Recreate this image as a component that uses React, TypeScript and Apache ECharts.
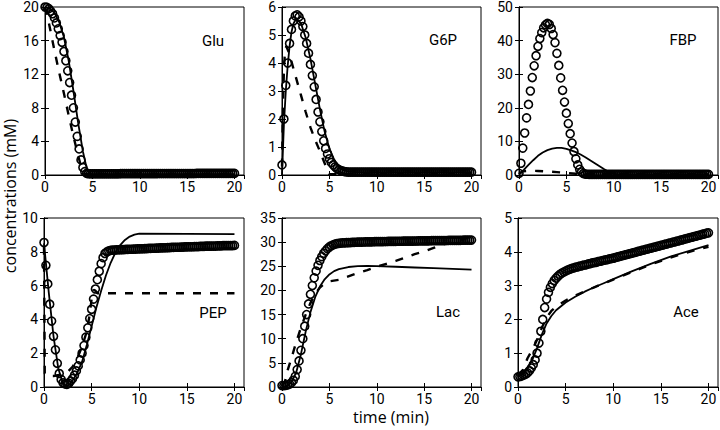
import React, { useEffect, useRef } from "react";
import * as echarts from "echarts";

// time grid of the simulated (circle) series, 0..20 min every 0.2 min
const T: number[] = Array.from({ length: 101 }, (_, k) => Math.round(k * 2) / 10);

const panelNames = ["Glu", "G6P", "FBP", "PEP", "Lac", "Ace"];
const yMax = [20, 6, 50, 10, 35, 5];
const yStep = [4, 1, 10, 2, 5, 1];
const xTicks = [0, 5, 10, 15, 20];

// ---- circle series (values at T) ----
const gluCircles = [
  20, 19.95, 19.8, 19.5, 19.2, 18.7, 18.1, 17.4, 16.6, 15.8,
  14.7, 13.6, 12.4, 11.0, 9.5, 8.0, 6.3, 4.6, 3.1, 1.8,
  0.9, 0.4, 0.2, 0.15, 0.15, 0.15, 0.15, 0.15, 0.15, 0.15,
  0.15, 0.15, 0.15, 0.15, 0.15, 0.15, 0.15, 0.15, 0.15, 0.15,
  0.16, 0.16, 0.16, 0.16, 0.16, 0.16, 0.16, 0.16, 0.16, 0.16,
  0.17, 0.17, 0.17, 0.17, 0.17, 0.17, 0.17, 0.17, 0.17, 0.17,
  0.18, 0.18, 0.18, 0.18, 0.18, 0.18, 0.18, 0.18, 0.18, 0.18,
  0.18, 0.18, 0.18, 0.18, 0.18, 0.18, 0.18, 0.18, 0.18, 0.18,
  0.19, 0.19, 0.19, 0.19, 0.19, 0.19, 0.19, 0.19, 0.19, 0.19,
  0.19, 0.19, 0.19, 0.19, 0.19, 0.19, 0.19, 0.19, 0.19, 0.19,
  0.2,
];
const g6pCircles = [
  0.36, 2.0, 3.2, 4.0, 4.7, 5.2, 5.5, 5.68, 5.72, 5.65,
  5.5, 5.3, 5.0, 4.7, 4.35, 3.95, 3.55, 3.15, 2.7, 2.25,
  1.9, 1.55, 1.22, 0.95, 0.75, 0.58, 0.45, 0.36, 0.29, 0.23,
  0.19, 0.16, 0.14, 0.12, 0.11, 0.1, 0.1, 0.1, 0.1, 0.1,
  0.1, 0.1, 0.1, 0.1, 0.1, 0.1, 0.1, 0.1, 0.1, 0.1,
  0.1, 0.1, 0.1, 0.1, 0.1, 0.1, 0.1, 0.1, 0.1, 0.1,
  0.1, 0.1, 0.1, 0.1, 0.1, 0.1, 0.1, 0.1, 0.1, 0.1,
  0.1, 0.1, 0.1, 0.1, 0.1, 0.1, 0.1, 0.1, 0.1, 0.1,
  0.1, 0.1, 0.1, 0.1, 0.1, 0.1, 0.1, 0.1, 0.1, 0.1,
  0.1, 0.1, 0.1, 0.1, 0.1, 0.1, 0.1, 0.1, 0.1, 0.1,
  0.1,
];
const fbpCircles = [
  0.5, 3.5, 8, 12.5, 17, 21, 25, 29, 32.5, 35.5,
  38.3, 40.6, 42.4, 43.8, 44.7, 45.1, 44.8, 43.6, 41.8, 39.4,
  36.2, 32.6, 28.9, 25.2, 21.7, 18.4, 15.3, 12.3, 9.5, 7.0,
  4.8, 3.0, 1.7, 0.9, 0.45, 0.28, 0.22, 0.2, 0.2, 0.2,
  0.2, 0.2, 0.2, 0.2, 0.2, 0.2, 0.2, 0.2, 0.2, 0.2,
  0.2, 0.2, 0.2, 0.2, 0.2, 0.2, 0.2, 0.2, 0.2, 0.2,
  0.2, 0.2, 0.2, 0.2, 0.2, 0.2, 0.2, 0.2, 0.2, 0.2,
  0.2, 0.2, 0.2, 0.2, 0.2, 0.2, 0.2, 0.2, 0.2, 0.2,
  0.2, 0.2, 0.2, 0.2, 0.2, 0.2, 0.2, 0.2, 0.2, 0.2,
  0.2, 0.2, 0.2, 0.2, 0.2, 0.2, 0.2, 0.2, 0.2, 0.2,
  0.2,
];
const pepCircles = [
  8.55, 7.2, 6.1, 4.9, 3.9, 3.0, 2.2, 1.4, 0.8, 0.45,
  0.25, 0.18, 0.16, 0.22, 0.35, 0.5, 0.7, 0.95, 1.25, 1.6,
  2.0, 2.45, 2.95, 3.5, 4.05, 4.6, 5.2, 5.8, 6.35, 6.85,
  7.3, 7.65, 7.9, 8.0, 8.05, 8.08, 8.1, 8.1, 8.11, 8.12,
  8.12, 8.13, 8.13, 8.14, 8.14, 8.15, 8.15, 8.16, 8.16, 8.17,
  8.17, 8.18, 8.18, 8.19, 8.19, 8.2, 8.2, 8.21, 8.21, 8.22,
  8.22, 8.23, 8.23, 8.24, 8.24, 8.25, 8.25, 8.26, 8.26, 8.27,
  8.27, 8.27, 8.28, 8.28, 8.29, 8.29, 8.3, 8.3, 8.3, 8.31,
  8.31, 8.31, 8.32, 8.32, 8.32, 8.33, 8.33, 8.33, 8.34, 8.34,
  8.34, 8.35, 8.35, 8.35, 8.36, 8.36, 8.36, 8.37, 8.37, 8.37,
  8.38,
];
const lacCircles = [
  0.3, 0.3, 0.35, 0.45, 0.6, 0.9, 1.4, 2.2, 3.6, 5.4,
  7.6, 10.0, 12.6, 15.0, 17.2, 19.2, 21.0, 22.6, 24.0, 25.2,
  26.2, 27.0, 27.7, 28.2, 28.65, 29.0, 29.25, 29.45, 29.6, 29.7,
  29.75, 29.8, 29.83, 29.86, 29.88, 29.9, 29.92, 29.94, 29.96, 29.98,
  30.0, 30.01, 30.02, 30.03, 30.04, 30.05, 30.06, 30.07, 30.08, 30.09,
  30.1, 30.1, 30.11, 30.12, 30.13, 30.13, 30.14, 30.15, 30.16, 30.16,
  30.17, 30.18, 30.18, 30.19, 30.2, 30.2, 30.21, 30.22, 30.22, 30.23,
  30.24, 30.24, 30.25, 30.26, 30.26, 30.27, 30.28, 30.28, 30.29, 30.3,
  30.3, 30.31, 30.31, 30.32, 30.33, 30.33, 30.34, 30.34, 30.35, 30.36,
  30.36, 30.37, 30.37, 30.38, 30.38, 30.39, 30.4, 30.4, 30.41, 30.41,
  30.42,
];
const aceCircles = [
  0.3, 0.31, 0.33, 0.35, 0.38, 0.42, 0.48, 0.56, 0.66, 0.8,
  1.0, 1.3, 1.65, 2.0, 2.35, 2.6, 2.8, 2.95, 3.06, 3.15,
  3.22, 3.28, 3.33, 3.37, 3.4, 3.43, 3.46, 3.48, 3.5, 3.52,
  3.54, 3.55, 3.57, 3.58, 3.6, 3.61, 3.62, 3.64, 3.65, 3.67,
  3.68, 3.69, 3.71, 3.72, 3.73, 3.75, 3.76, 3.77, 3.79, 3.8,
  3.81, 3.83, 3.84, 3.86, 3.87, 3.89, 3.9, 3.92, 3.93, 3.95,
  3.96, 3.98, 3.99, 4.01, 4.02, 4.04, 4.05, 4.07, 4.08, 4.1,
  4.11, 4.13, 4.14, 4.16, 4.17, 4.19, 4.2, 4.22, 4.23, 4.25,
  4.26, 4.28, 4.29, 4.31, 4.32, 4.34, 4.35, 4.37, 4.38, 4.4,
  4.41, 4.43, 4.44, 4.46, 4.47, 4.49, 4.5, 4.52, 4.53, 4.55,
  4.56,
];

// ---- solid model curves [t, value] ----
const gluSolid = [[0, 20], [0.5, 19.8], [1, 19.3], [1.5, 18.2], [2, 16.4], [2.5, 13.6], [3, 10], [3.5, 6.2], [4, 2.8], [4.4, 0.8], [4.7, 0.15], [5, 0.1], [20, 0.1]];
const g6pSolid = [[0, 0], [0.2, 1.8], [0.4, 3.0], [0.6, 3.9], [0.8, 4.6], [1, 5.1], [1.2, 5.4], [1.5, 5.58], [2, 5.42], [2.5, 4.9], [3, 4.15], [3.5, 3.25], [4, 2.35], [4.5, 1.55], [5, 0.95], [5.5, 0.55], [6, 0.3], [6.5, 0.17], [7, 0.12], [8, 0.1], [20, 0.1]];
const fbpSolid = [[0, 0.3], [0.5, 1.5], [1, 3.0], [1.5, 4.4], [2, 5.7], [2.5, 6.7], [3, 7.4], [3.5, 7.85], [4, 8.05], [4.5, 8.05], [5, 7.8], [5.5, 7.35], [6, 6.8], [6.5, 6.1], [7, 5.3], [7.5, 4.4], [8, 3.5], [8.5, 2.6], [9, 1.7], [9.5, 0.9], [10, 0.4], [10.5, 0.2], [20, 0.2]];
const pepSolid = [[0, 8.5], [0.5, 5.6], [1, 3.0], [1.5, 1.1], [2, 0.2], [2.3, 0.05], [2.8, 0.2], [3.5, 0.85], [4, 1.5], [4.5, 2.5], [5, 3.6], [5.5, 4.7], [6, 5.7], [6.5, 6.6], [7, 7.35], [7.5, 7.95], [8, 8.4], [8.5, 8.7], [9, 8.9], [9.5, 9.02], [10, 9.07], [20, 9.05]];
const lacSolid = [[0, 0], [0.5, 0.3], [1, 1.0], [1.5, 3.0], [2, 6.8], [2.5, 11.5], [3, 15.5], [3.5, 18.6], [4, 20.8], [4.5, 22.3], [5, 23.3], [5.5, 24.0], [6, 24.4], [7, 24.85], [8, 25.05], [9, 25.1], [10, 25.05], [12, 24.9], [14, 24.75], [16, 24.6], [18, 24.45], [20, 24.3]];
const aceSolid = [[0, 0.3], [0.5, 0.38], [1, 0.55], [1.5, 0.8], [2, 1.15], [2.5, 1.55], [3, 1.88], [3.5, 2.1], [4, 2.27], [5, 2.5], [6, 2.67], [7, 2.82], [8, 2.95], [9, 3.07], [10, 3.19], [12, 3.43], [14, 3.65], [16, 3.86], [18, 4.03], [20, 4.2]];

// ---- dashed model curves [t, value] ----
const gluDashed = [[0, 20], [0.25, 19.0], [0.5, 17.6], [1, 14.8], [1.5, 12.2], [2, 9.7], [2.5, 7.1], [3, 4.6], [3.5, 2.3], [3.9, 0.6], [4.2, 0.1], [20, 0.1]];
const g6pDashed = [[0, 0.3], [0.1, 2.4], [0.2, 3.7], [0.3, 4.35], [0.45, 4.6], [0.7, 4.4], [1, 4.05], [1.5, 3.45], [2, 2.85], [2.5, 2.25], [3, 1.7], [3.5, 1.25], [4, 0.85], [4.5, 0.42], [4.8, 0.12], [5, 0.03], [20, 0.03]];
const fbpDashed = [[0, 0.3], [0.4, 1.1], [1, 1.25], [2, 1.2], [3, 1.05], [4, 0.85], [5, 0.6], [6, 0.38], [7, 0.25], [20, 0.2]];
const pepDashed = [[0, 8.3], [0.04, 4.5], [0.08, 0.8], [0.3, 0.65], [1, 0.65], [2, 0.75], [2.5, 0.9], [3, 1.2], [3.5, 1.7], [4, 2.4], [4.5, 3.3], [4.8, 4.3], [5, 5.2], [5.2, 5.75], [5.4, 5.7], [5.6, 5.55], [20, 5.55]];
const lacDashed = [[0, 0.2], [0.3, 1.0], [0.6, 3.5], [1, 6.0], [1.5, 9.3], [2, 12.3], [2.5, 15], [3, 17.4], [3.5, 19.3], [4, 20.6], [4.5, 21.4], [5, 21.9], [6, 22.2], [7, 22.9], [8, 23.6], [9, 24.2], [10, 24.9], [11, 25.5], [12, 26.1], [13, 26.8], [14, 27.5], [15, 28.1], [16, 28.8], [17, 29.5], [18, 30.1], [19, 30.6], [20, 31.1]];
const aceDashed = [[0, 0.35], [0.5, 0.5], [1, 0.85], [1.5, 1.1], [2, 1.4], [2.5, 1.75], [3, 2.05], [3.5, 2.25], [4, 2.38], [5, 2.56], [6, 2.7], [7, 2.83], [8, 2.95], [10, 3.18], [12, 3.41], [14, 3.63], [16, 3.83], [18, 4.0], [20, 4.15]];

const circleSets = [gluCircles, g6pCircles, fbpCircles, pepCircles, lacCircles, aceCircles];
const solidSets = [gluSolid, g6pSolid, fbpSolid, pepSolid, lacSolid, aceSolid];
const dashedSets = [gluDashed, g6pDashed, fbpDashed, pepDashed, lacDashed, aceDashed];

const grids = [
  { left: 45, top: 5, width: 199, height: 170 },
  { left: 282, top: 5, width: 199, height: 170 },
  { left: 519, top: 5, width: 199, height: 170 },
  { left: 44, top: 218, width: 200, height: 169 },
  { left: 282, top: 218, width: 199, height: 169 },
  { left: 518, top: 218, width: 200, height: 169 },
];
const namePos = [
  [213, 41], [443, 40], [683, 40],
  [213, 313], [448, 312], [686, 312],
];

const tickFont = "Roboto, 'Liberation Sans', sans-serif";
const titleFont = "'Open Sans', 'Noto Sans', sans-serif";

export default function App() {
  const ref = useRef<HTMLDivElement>(null);
  useEffect(() => {
    document.body.style.margin = "0";
    const chart = echarts.init(ref.current!, undefined, { renderer: "svg" });
    const xAxis: any[] = [];
    const yAxis: any[] = [];
    const series: any[] = [];
    const axisCommon = {
      axisLine: { show: true, lineStyle: { color: "#000", width: 1 } },
      axisTick: { show: true, inside: true, length: 4, lineStyle: { color: "#000", width: 1 } },
      splitLine: { show: false },
    };
    grids.forEach((g, i) => {
      const xl = {
        ...axisCommon,
        type: "value", gridIndex: i, min: 0, max: 21, interval: 5,
        axisLabel: {
          color: "#000", fontSize: 14, fontFamily: tickFont, margin: 5,
          showMaxLabel: false,
          formatter: (v: number) => (xTicks.includes(v) ? String(v) : ""),
        },
      };
      xAxis.push({ ...xl, position: "bottom" });
      xAxis.push({ ...xl, position: "top", axisLabel: { show: false } });
      const yl = {
        ...axisCommon,
        type: "value", gridIndex: i, min: 0, max: yMax[i], interval: yStep[i],
        axisLabel: { color: "#000", fontSize: 14, fontFamily: tickFont, margin: 6 },
      };
      yAxis.push({ ...yl, position: "left" });
      yAxis.push({ ...yl, position: "right", axisLabel: { show: false } });

      series.push({
        type: "line", xAxisIndex: 2 * i, yAxisIndex: 2 * i,
        data: dashedSets[i], symbol: "none", silent: true,
        lineStyle: { color: "#000", width: 2.4, type: [8, 9] },
      });
      series.push({
        type: "line", xAxisIndex: 2 * i, yAxisIndex: 2 * i,
        data: solidSets[i], symbol: "none", silent: true,
        lineStyle: { color: "#000", width: 1.8 },
      });
      series.push({
        type: "scatter", xAxisIndex: 2 * i, yAxisIndex: 2 * i,
        data: T.map((t, k) => [t, circleSets[i][k]]),
        symbol: "circle", symbolSize: 8, silent: true, large: false, progressive: 0,
        itemStyle: { color: "rgba(0,0,0,0)", borderColor: "#000", borderWidth: 1.6, opacity: 1 },
      });
    });

    const graphic: any[] = panelNames.map((n, i) => ({
      type: "text", x: namePos[i][0], y: namePos[i][1],
      style: { text: n, fontSize: 15, fontFamily: tickFont, fill: "#000", textAlign: "center", textVerticalAlign: "middle" },
    }));
    graphic.push({
      type: "text", x: 10, y: 196, rotation: Math.PI / 2,
      style: { text: "concentrations (mM)", fontSize: 16, fontFamily: titleFont, fill: "#000", textAlign: "center", textVerticalAlign: "middle" },
    });
    graphic.push({
      type: "text", x: 391, y: 417,
      style: { text: "time (min)", fontSize: 16, fontFamily: titleFont, fill: "#000", textAlign: "center", textVerticalAlign: "middle" },
    });

    chart.setOption({
      animation: false,
      backgroundColor: "#fff",
      grid: grids.map((g) => ({ ...g, show: true, borderColor: "#000", borderWidth: 1, backgroundColor: "transparent" })),
      xAxis, yAxis, series, graphic,
    });
    return () => chart.dispose();
  }, []);
  return <div ref={ref} style={{ width: 720, height: 430 }} />;
}
